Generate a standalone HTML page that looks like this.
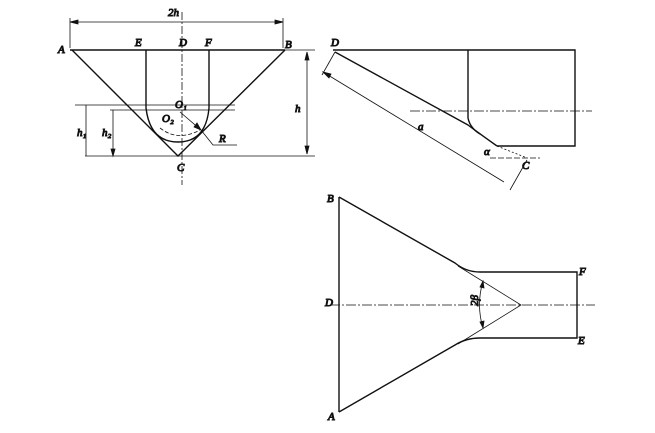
<!DOCTYPE html><html><head><style>body{margin:0;background:#fff}svg{display:block}text{font-family:"Liberation Serif",serif;font-style:italic;font-size:11px;fill:#111}</style></head><body>
<svg width="655" height="433" viewBox="0 0 655 433" stroke="#111" fill="none">
<!-- left view -->
<g stroke-width="1.4">
<line x1="70" y1="50" x2="285" y2="50"/>
<path d="M72 50 L178 156 L285 50"/>
<path d="M146 50 V108 Q150 142 178 142 Q206 142 209 108 V50"/>
</g>
<g stroke-width="0.8">
<line x1="70" y1="22" x2="283" y2="22"/><line x1="70" y1="18" x2="70" y2="48"/><line x1="283" y1="18" x2="283" y2="48"/>
<path d="M70 22 l8 -2 v4z M283 22 l-8 -2 v4z" fill="#111"/>
<line x1="182" y1="12" x2="182" y2="185" stroke-dasharray="8 2 2 2"/>
<line x1="75" y1="105" x2="235" y2="105"/><line x1="110" y1="110" x2="235" y2="110"/>
<line x1="85" y1="156" x2="315" y2="156"/><line x1="285" y1="50" x2="315" y2="50"/>
<line x1="307" y1="52" x2="307" y2="154"/><path d="M307 52 l-2 8 h4z M307 154 l-2 -8 h4z" fill="#111"/>
<line x1="86" y1="105" x2="86" y2="156"/><line x1="113" y1="110" x2="113" y2="156"/><path d="M113 156 l-2 -7 h4z" fill="#111"/>
<path d="M160 128 Q178 142 200 130" stroke-dasharray="4 2"/>
<path d="M180 112 L201 130 L213 145 H237"/><path d="M201 130 l-7 -3 3 -4z" fill="#111"/>
</g>
<text x="58" y="53">A</text><text x="135" y="46">E</text><text x="179" y="46">D</text><text x="205" y="46">F</text><text x="285" y="48">B</text>
<text x="168" y="16">2h</text><text x="175" y="108">O₁</text><text x="162" y="122">O₂</text><text x="219" y="142">R</text><text x="177" y="171">C</text>
<text x="295" y="112">h</text><text x="77" y="136">h₁</text><text x="102" y="136">h₂</text>
<!-- top right -->
<g stroke-width="1.4">
<path d="M333 50 H575 V146 H497"/>
<path d="M468 50 V118 Q470 128 480 134"/>
<path d="M335 52 L468 125 Q480 134 497 146"/>
</g>
<g stroke-width="0.8">
<line x1="410" y1="111" x2="592" y2="111" stroke-dasharray="10 2 2 2"/>
<line x1="497" y1="146" x2="527" y2="158" stroke-dasharray="2 2"/><line x1="490" y1="158" x2="540" y2="158" stroke-dasharray="6 2"/>
<line x1="323" y1="72" x2="504" y2="182"/><path d="M323 72 l8 2 -2 4z" fill="#111"/>
<line x1="335" y1="52" x2="322" y2="75"/><line x1="527" y1="160" x2="510" y2="190"/>
</g>
<text x="331" y="46">D</text><text x="418" y="130">a</text><text x="484" y="155">α</text><text x="522" y="169">C</text>
<!-- bottom view -->
<g stroke-width="1.4">
<path d="M339 197 V412"/>
<path d="M339 197 L455 263 Q466 272 480 272 H577 V338 H480 Q466 338 455 345 L339 412"/>
</g>
<g stroke-width="0.8">
<line x1="330" y1="305" x2="595" y2="305" stroke-dasharray="10 2 2 2"/>
<path d="M458 266 L521 305 L458 344"/>
<path d="M483 281 Q476 305 483 328"/><path d="M483 281 l-3 6 4 1z M483 328 l-3 -6 4 -1z" fill="#111"/>
</g>
<text x="327" y="202">B</text><text x="325" y="306">D</text><text x="579" y="275">F</text><text x="578" y="344">E</text><text x="328" y="420">A</text>
<text x="472" y="312" transform="rotate(-90 472 306)">2β</text>
</svg></body></html>
